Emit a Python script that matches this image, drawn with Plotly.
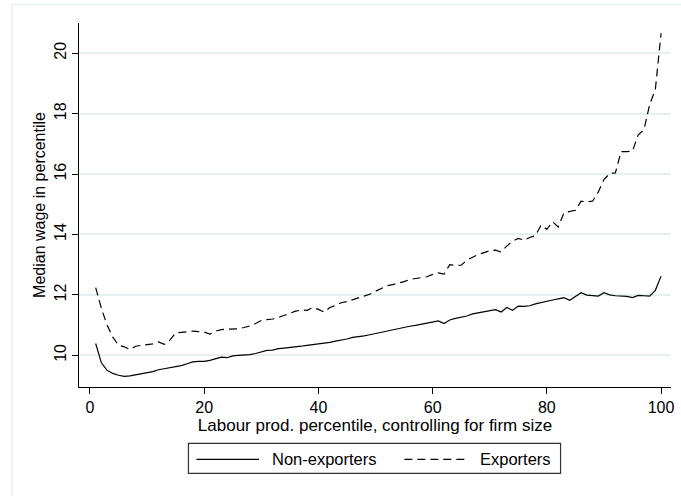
import plotly.graph_objects as go

percentile = list(range(1, 101))

non_exporters = [
    10.39, 9.75, 9.50, 9.40, 9.34, 9.30, 9.32, 9.35, 9.38, 9.42,
    9.46, 9.52, 9.55, 9.60, 9.62, 9.66, 9.72, 9.78, 9.80, 9.80,
    9.83, 9.89, 9.94, 9.92, 9.98, 10.00, 10.01, 10.02, 10.06, 10.10,
    10.16, 10.17, 10.22, 10.24, 10.26, 10.26, 10.30, 10.33, 10.35, 10.38,
    10.40, 10.43, 10.47, 10.50, 10.54, 10.59, 10.61, 10.64, 10.68, 10.72,
    10.76, 10.80, 10.85, 10.90, 10.93, 10.96, 10.99, 11.03, 11.07, 11.10,
    11.14, 11.05, 11.17, 11.22, 11.26, 11.30, 11.37, 11.40, 11.43, 11.47,
    11.51, 11.43, 11.58, 11.49, 11.63, 11.62, 11.64, 11.70, 11.75, 11.78,
    11.83, 11.87, 11.91, 11.82, 11.95, 12.07, 11.99, 11.98, 11.96, 12.07,
    12.00, 11.97, 11.97, 11.95, 11.91, 11.98, 11.97, 11.96, 12.15, 12.62,
]

exporters = [
    12.24, 11.55, 11.00, 10.60, 10.33, 10.28, 10.19, 10.30, 10.33, 10.35,
    10.38, 10.44, 10.36, 10.50, 10.74, 10.76, 10.78, 10.80, 10.78, 10.77,
    10.70, 10.80, 10.85, 10.86, 10.87, 10.88, 10.92, 10.97, 11.05, 11.15,
    11.18, 11.20, 11.25, 11.32, 11.38, 11.46, 11.50, 11.49, 11.58, 11.52,
    11.43, 11.58, 11.65, 11.74, 11.78, 11.84, 11.88, 11.95, 12.02, 12.12,
    12.22, 12.30, 12.34, 12.38, 12.44, 12.51, 12.54, 12.57, 12.60, 12.68,
    12.73, 12.69, 13.00, 12.98, 12.98, 13.15, 13.25, 13.34, 13.40, 13.46,
    13.48, 13.42, 13.62, 13.78, 13.87, 13.81, 13.90, 13.96, 14.31, 14.17,
    14.42, 14.25, 14.72, 14.76, 14.80, 15.10, 15.08, 15.10, 15.40, 15.82,
    16.02, 16.04, 16.74, 16.74, 16.76, 17.30, 17.46, 18.30, 18.80, 20.66,
]

x_ticks = [0, 20, 40, 60, 80, 100]
y_ticks = [10, 12, 14, 16, 18, 20]
series_names = ["Non-exporters", "Exporters"]

W, H = 681, 496
L, R, T, B = 79, 674, 23, 386.7
FONT = "Liberation Sans, Arial, sans-serif"
GRID = "#e8eff0"


def px(xp):
    return (xp - L) / (R - L)


def py(yp):
    return (B - yp) / (B - T)


fig = go.Figure()
fig.add_trace(go.Scatter(x=percentile, y=non_exporters, mode="lines", name=series_names[0],
                         line=dict(color="black", width=1.2)))
fig.add_trace(go.Scatter(x=percentile, y=exporters, mode="lines", name=series_names[1],
                         line=dict(color="black", width=1.2, dash="8px,5px")))

shapes = []
# outer light border of graph region
shapes.append(dict(type="rect", xref="paper", yref="paper",
                   x0=px(11.5), x1=px(720), y0=py(4.5), y1=py(540),
                   line=dict(color=GRID, width=1.5), layer="below"))
# legend box
shapes.append(dict(type="rect", xref="paper", yref="paper",
                   x0=px(189), x1=px(563), y0=py(443), y1=py(473),
                   line=dict(color="#333", width=1.2), fillcolor="white"))
# legend samples
shapes.append(dict(type="line", xref="paper", yref="paper",
                   x0=px(197), x1=px(260), y0=py(459), y1=py(459),
                   line=dict(color="black", width=1.2)))
shapes.append(dict(type="line", xref="paper", yref="paper",
                   x0=px(406), x1=px(471), y0=py(459), y1=py(459),
                   line=dict(color="black", width=1.2, dash="8px,5px")))

annotations = [
    dict(text=series_names[0], xref="paper", yref="paper", x=px(271), y=py(459),
         xanchor="left", yanchor="middle", showarrow=False,
         font=dict(family=FONT, size=16.5, color="black")),
    dict(text=series_names[1], xref="paper", yref="paper", x=px(480), y=py(459),
         xanchor="left", yanchor="middle", showarrow=False,
         font=dict(family=FONT, size=16.5, color="black")),
]

fig.update_layout(
    width=W, height=H,
    margin=dict(l=L, r=W - R, t=T, b=H - B, pad=0),
    paper_bgcolor="white", plot_bgcolor="white",
    showlegend=False,
    shapes=shapes, annotations=annotations,
    font=dict(family=FONT, size=16, color="black"),
)
fig.update_xaxes(
    range=[-1.92, 101.74], tickvals=x_ticks, ticks="outside", ticklen=6,
    tickcolor="black", showline=True, linecolor="black", linewidth=1,
    showgrid=False, zeroline=False,
    title=dict(text="Labour prod. percentile, controlling for firm size", standoff=1,
               font=dict(size=17)),
    tickfont=dict(size=16),
)
fig.update_yaxes(
    range=[8.95, 21.0], tickvals=y_ticks, ticks="outside", ticklen=6,
    tickcolor="black", showline=True, linecolor="black", linewidth=1,
    showgrid=True, gridcolor=GRID, gridwidth=1.5, zeroline=False,
    tickangle=-90,
    title=dict(text="Median wage in percentile", standoff=1, font=dict(size=16)),
    tickfont=dict(size=16),
)

fig.write_html("out.html")
